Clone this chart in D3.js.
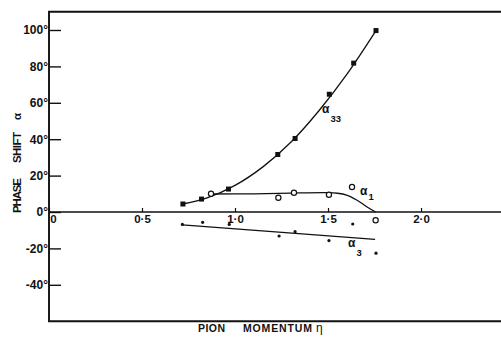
<!DOCTYPE html>
<html>
<head>
<meta charset="utf-8">
<script src="https://cdn.jsdelivr.net/npm/d3@7"></script>
<style>
  html, body { margin: 0; padding: 0; background: #fff; }
  svg { display: block; }
  text { font-family: "Liberation Sans", Arial, sans-serif; fill: #111; }
</style>
</head>
<body>
<svg id="chart"></svg>
<script>
// measured points (pion momentum eta, phase shift in degrees)
const a33Eta = [0.72, 0.82, 0.965, 1.23, 1.323, 1.507, 1.638, 1.758];
const a33Deg = [4.4, 7.1, 12.6, 31.6, 40.4, 64.7, 81.8, 99.7];
const a1Eta = [0.871, 1.233, 1.317, 1.505, 1.629, 1.756];
const a1Deg = [10.0, 7.8, 10.6, 9.5, 13.7, -4.5];
const a3Eta = [0.717, 0.826, 0.969, 1.237, 1.323, 1.505, 1.633, 1.758];
const a3Deg = [-6.8, -5.7, -6.8, -13.2, -10.8, -15.7, -6.6, -22.6];

// hand-drawn fit curves
const a33FitEta = [0.72, 0.85, 1.0, 1.15, 1.3, 1.45, 1.6, 1.758];
const a33FitDeg = [4.4, 7.7, 14.6, 24.8, 38.3, 55.5, 75.5, 99.7];
const a1FitEta = [0.871, 1.1, 1.3, 1.5, 1.55, 1.6, 1.654, 1.708, 1.756];
const a1FitDeg = [9.9, 10.0, 10.4, 10.6, 10.3, 9.3, 6.6, 2.9, 0];
const a3FitEta = [0.717, 1.753];
const a3FitDeg = [-7.1, -15.0];

const xTicks = [0, 0.5, 1.0, 1.5, 2.0];
const xTickLabels = ['0', '0·5', '1·0', '1·5', '2·0'];
const yTicks = [-40, -20, 0, 20, 40, 60, 80, 100];
const yTickLabels = ['-40°', '-20°', '0°', '20°', '40°', '60°', '80°', '100°'];

const width = 501, height = 342;
const svg = d3.select('#chart').attr('width', width).attr('height', height);

const x = d3.scaleLinear().domain([0, 2.43]).range([49, 501]);
const y = d3.scaleLinear().domain([-60, 110]).range([321.2, 11.8]);

const zip = (a, b) => a.map((v, i) => [v, b[i]]);

// frame: top, left, bottom
svg.append('path')
    .attr('d', `M${width},${y(110)}H${x(0)}V${y(-60)}H${width}`)
    .attr('fill', 'none')
    .attr('stroke', '#111')
    .attr('stroke-width', 1.9);

// y axis, ticks pointing inward, labels outside
const yAxis = d3.axisLeft(y)
    .tickValues(yTicks)
    .tickFormat((d, i) => yTickLabels[i])
    .tickSize(-12)
    .tickPadding(1);
const yg = svg.append('g')
    .attr('transform', `translate(${x(0)},0)`)
    .call(yAxis);
yg.select('.domain').remove();
yg.selectAll('line').attr('stroke', '#111').attr('stroke-width', 1.4);
yg.selectAll('text')
    .style('font-size', '12px')
    .style('font-weight', 'bold')
    .style('font-family', '"Liberation Sans", Arial, sans-serif')
    .attr('fill', '#111');

// x axis along the zero line, small ticks pointing up
const xAxis = d3.axisBottom(x)
    .tickValues(xTicks)
    .tickFormat((d, i) => xTickLabels[i])
    .tickSize(-4)
    .tickPadding(3);
const xg = svg.append('g')
    .attr('transform', `translate(0,${y(0)})`)
    .call(xAxis);
xg.select('.domain').remove();
xg.selectAll('line').attr('stroke', '#111').attr('stroke-width', 1.2);
xg.selectAll('text')
    .style('font-size', '11.5px')
    .style('font-weight', 'bold')
    .style('font-family', '"Liberation Sans", Arial, sans-serif')
    .attr('fill', '#111');
xg.selectAll('.tick').filter(d => d === 0).select('text').attr('x', 4);

svg.append('line')
    .attr('x1', x(0)).attr('x2', width)
    .attr('y1', y(0)).attr('y2', y(0))
    .attr('stroke', '#111')
    .attr('stroke-width', 1.3);

// fit curves
const line = d3.line()
    .x(d => x(d[0]))
    .y(d => y(d[1]))
    .curve(d3.curveCatmullRom.alpha(0.5));

[zip(a33FitEta, a33FitDeg), zip(a1FitEta, a1FitDeg), zip(a3FitEta, a3FitDeg)].forEach(pts => {
    svg.append('path')
        .attr('d', line(pts))
        .attr('fill', 'none')
        .attr('stroke', '#111')
        .attr('stroke-width', 1.3);
});

// markers
svg.append('g').selectAll('rect')
    .data(zip(a33Eta, a33Deg))
    .join('rect')
    .attr('x', d => x(d[0]) - 2.5)
    .attr('y', d => y(d[1]) - 2.5)
    .attr('width', 5)
    .attr('height', 5)
    .attr('fill', '#111');

svg.append('g').selectAll('circle')
    .data(zip(a1Eta, a1Deg))
    .join('circle')
    .attr('cx', d => x(d[0]))
    .attr('cy', d => y(d[1]))
    .attr('r', 2.6)
    .attr('fill', '#fff')
    .attr('stroke', '#111')
    .attr('stroke-width', 1.2);

svg.append('g').selectAll('circle')
    .data(zip(a3Eta, a3Deg))
    .join('circle')
    .attr('cx', d => x(d[0]))
    .attr('cy', d => y(d[1]))
    .attr('r', 1.6)
    .attr('fill', '#111');

// curve labels
function alphaLabel(px, py, sub, dy) {
    const t = svg.append('text')
        .attr('x', px).attr('y', py)
        .style('font-size', '12px')
        .style('font-weight', 'bold');
    t.append('tspan').text('α');
    t.append('tspan')
        .attr('dx', 1).attr('dy', dy)
        .style('font-size', '9.5px')
        .text(sub);
}
alphaLabel(322, 113, '33', 9);
alphaLabel(360, 195, '1', 5);
alphaLabel(348, 247, '3', 9);

// axis titles
const xTitle = svg.append('text')
    .attr('y', 332)
    .style('font-size', '10.5px')
    .style('font-weight', 'bold');
xTitle.append('tspan').attr('x', 198).attr('textLength', 27).text('PION');
xTitle.append('tspan').attr('x', 243).attr('textLength', 69).text('MOMENTUM');
xTitle.append('tspan').attr('x', 316).style('font-size', '12px').style('font-weight', 'normal').text('η');

const yTitle = svg.append('text')
    .attr('transform', 'translate(21,213) rotate(-90)')
    .style('font-size', '11.5px')
    .style('font-weight', 'bold');
yTitle.append('tspan').attr('x', 0).attr('textLength', 35).text('PHASE');
yTitle.append('tspan').attr('x', 50).attr('textLength', 31).text('SHIFT');
yTitle.append('tspan').attr('x', 93).text('α');
</script>
</body>
</html>
